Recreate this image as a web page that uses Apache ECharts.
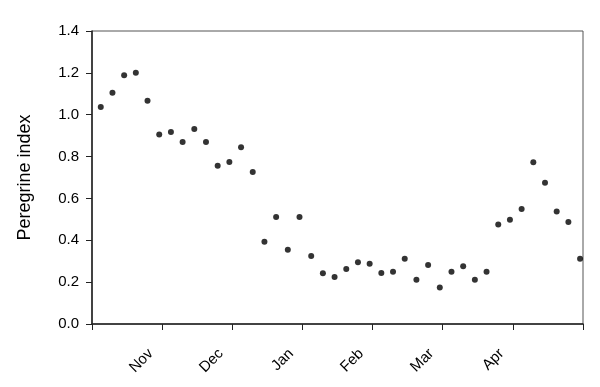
<!DOCTYPE html>
<html>
<head>
<meta charset="utf-8">
<script src="https://cdn.jsdelivr.net/npm/echarts@6/dist/echarts.min.js"></script>
<style>html,body{margin:0;padding:0;background:#fff}#c{width:600px;height:387px}</style>
</head>
<body>
<div id="c"></div>
<script>
// Month tick labels at x = 6, 12, ..., 36 (ticks every 6 samples)
var monthLabels = ['', 'Nov', 'Dec', 'Jan', 'Feb', 'Mar', 'Apr', ''];
var samplesPerMonth = 6;
var firstOffset = 0.75; // position of first sample within the axis (in sample units)
var peregrineIndex = [
  1.037, 1.105, 1.188, 1.201, 1.067, 0.906, 0.917, 0.870, 0.932, 0.870,
  0.756, 0.774, 0.844, 0.726, 0.393, 0.511, 0.355, 0.511, 0.325, 0.242,
  0.225, 0.263, 0.295, 0.288, 0.244, 0.250, 0.312, 0.212, 0.282, 0.175,
  0.250, 0.276, 0.212, 0.250, 0.476, 0.498, 0.549, 0.773, 0.675, 0.538,
  0.487, 0.312
];
var yTicks = [0, 0.2, 0.4, 0.6, 0.8, 1.0, 1.2, 1.4];

var points = peregrineIndex.map(function (v, i) { return [i + firstOffset, v]; });

var chart = echarts.init(document.getElementById('c'));
var font = 'Liberation Sans, Arial, sans-serif';
chart.setOption({
  animation: false,
  grid: {
    left: 92, right: 17, top: 31, bottom: 63,
    show: true, borderColor: '#555', borderWidth: 1
  },
  xAxis: {
    type: 'value',
    min: 0,
    max: samplesPerMonth * (monthLabels.length - 1),
    interval: samplesPerMonth,
    splitLine: { show: false },
    axisLine: { show: true, lineStyle: { color: '#222', width: 1.5 } },
    axisTick: { show: true, inside: false, length: 6, lineStyle: { color: '#222' } },
    axisLabel: {
      rotate: 45,
      margin: 16,
      padding: [0, 16, 0, 0],
      color: '#000',
      fontFamily: font,
      fontSize: 15,
      showMinLabel: true,
      showMaxLabel: true,
      formatter: function (v) { return monthLabels[Math.round(v / samplesPerMonth)] || ''; }
    }
  },
  yAxis: {
    type: 'value',
    min: yTicks[0],
    max: yTicks[yTicks.length - 1],
    interval: 0.2,
    name: 'Peregrine index',
    nameLocation: 'middle',
    nameGap: 58,
    nameTextStyle: { color: '#000', fontFamily: font, fontSize: 18 },
    splitLine: { show: false },
    axisLine: { show: true, lineStyle: { color: '#222', width: 1.5 } },
    axisTick: { show: true, inside: false, length: 6, lineStyle: { color: '#222' } },
    axisLabel: {
      margin: 13,
      color: '#000',
      fontFamily: font,
      fontSize: 15,
      formatter: function (v) { return v.toFixed(1); }
    }
  },
  series: [{
    type: 'scatter',
    data: points,
    symbol: 'circle',
    symbolSize: 6,
    itemStyle: { color: '#000' }
  }]
});
</script>
</body>
</html>
